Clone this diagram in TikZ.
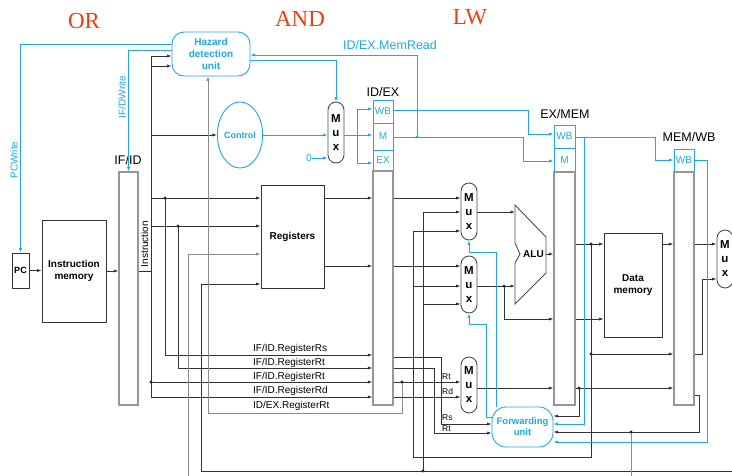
\documentclass[tikz,border=0pt]{standalone}
\usepackage{fontspec}
\setmainfont{Liberation Sans}
\newfontfamily\opfont{Liberation Serif}
\usetikzlibrary{arrows.meta,shapes.geometric}
\definecolor{ctrlblue}{RGB}{30,168,230}
\definecolor{opred}{RGB}{244,58,18}
\definecolor{reggray}{RGB}{150,150,150}
\tikzset{
	wire/.style={draw=black!80, line width=0.8pt},
	gwire/.style={draw=black!45, line width=0.8pt},
	ctrl/.style={draw=ctrlblue, line width=0.8pt},
	arr/.style={-{Latex[length=4.5pt,width=3.2pt]}},
	unitbox/.style={draw=black!80, line width=0.8pt, inner sep=0pt, align=center, font=\bfseries\fontsize{10}{12.5}\selectfont},
	pipereg/.style={draw=reggray, line width=1.1pt, inner sep=0pt, minimum width=20pt},
	ctrlfield/.style={draw=ctrlblue, line width=0.9pt, inner sep=0pt, minimum width=20pt, text=ctrlblue, font=\fontsize{10}{10}\selectfont},
	ctrlunit/.style={draw=ctrlblue, line width=0.9pt, inner sep=0pt, align=center, text=ctrlblue, font=\bfseries\fontsize{10}{12}\selectfont},
	muxbox/.style={draw=black!70, line width=0.9pt, rounded corners=8pt, minimum width=16pt, inner sep=0pt, align=center, font=\bfseries\fontsize{11.5}{14}\selectfont},
	reglbl/.style={font=\fontsize{12.5}{12.5}\selectfont},
	fieldlbl/.style={anchor=west, font=\fontsize{10}{10}\selectfont, inner sep=0pt},
	pinlbl/.style={anchor=west, font=\fontsize{8.5}{8.5}\selectfont, inner sep=0pt},
	sig/.style={text=ctrlblue, font=\fontsize{10}{10}\selectfont, inner sep=0pt},
	oplbl/.style={text=opred, font=\opfont\fontsize{23}{23}\selectfont}
}
\begin{document}
\begin{tikzpicture}[x=1pt,y=-1pt]
	\useasboundingbox (0,0) rectangle (732,475);

	\node[oplbl] (OpOR) at (84,21) {OR};
	\node[oplbl] (OpAND) at (300,19) {AND};
	\node[oplbl] (OpLW) at (470,17) {LW};

	\node[unitbox, minimum width=17pt, minimum height=35pt, font=\bfseries\fontsize{9}{9}\selectfont] (PC) at (20.5,270.5) {PC};
	\node[unitbox, minimum width=64pt, minimum height=102pt] (IM) at (74,271) {Instruction\\memory};
	\node[pipereg, minimum width=19pt, minimum height=233pt] (IFID) at (128.5,288.5) {};
	\node[reglbl] (IFIDlbl) at (128,160) {IF/ID};
	\node[rotate=90, font=\fontsize{10}{10}\selectfont, inner sep=0pt] (InstrLbl) at (144.5,244) {Instruction};

	\node[ctrlunit, rounded corners=12pt, minimum width=78pt, minimum height=44pt] (HDU) at (211,54) {Hazard\\detection\\unit};
	\node[ctrlunit, ellipse, minimum width=34pt, minimum height=66pt, font=\bfseries\fontsize{9}{9}\selectfont] (Ctrl) at (240,135) {Control};
	\node[muxbox, minimum height=61pt] (MuxCtrl) at (336,132.5) {M\\u\\x};
	\node[sig] (Zero) at (309,158) {0};
	\node[unitbox, minimum width=63pt, minimum height=103pt] (Regs) at (292.5,236.5) {Registers};

	\node[ctrlfield, minimum height=23pt] (IDEXwb) at (383,111.5) {WB};
	\node[ctrlfield, minimum height=27pt] (IDEXm) at (383,136.5) {M};
	\node[ctrlfield, minimum height=21pt] (IDEXex) at (383,160.5) {EX};
	\node[pipereg, minimum height=234pt] (IDEX) at (383,288) {};
	\node[reglbl] (IDEXlbl) at (383,92) {ID/EX};

	\node[muxbox, minimum height=57pt] (MuxA) at (469,211.5) {M\\u\\x};
	\node[muxbox, minimum height=57pt] (MuxB) at (469,284.5) {M\\u\\x};
	\node[muxbox, minimum height=56pt] (MuxDst) at (469,385) {M\\u\\x};
	\draw[draw=black!70, line width=0.9pt] (515,205) -- (546,237) -- (546,273) -- (515,304) -- (515,263) -- (520,254) -- (515,243) -- cycle;
	\node[font=\bfseries\fontsize{10}{10}\selectfont, inner sep=0pt] (ALU) at (533.5,254) {ALU};
	\node[ctrlunit, rounded corners=14pt, minimum width=61pt, minimum height=40pt, font=\bfseries\fontsize{9.5}{11}\selectfont] (FU) at (522.5,427) {Forwarding\\unit};

	\node[ctrlfield, minimum width=21pt, minimum height=23pt] (EXMEMwb) at (564.5,136.5) {WB};
	\node[ctrlfield, minimum width=21pt, minimum height=24pt] (EXMEMm) at (564.5,160) {M};
	\node[pipereg, minimum width=21pt, minimum height=233pt] (EXMEM) at (564.5,288.5) {};
	\node[reglbl] (EXMEMlbl) at (565,114) {EX/MEM};
	\node[unitbox, minimum width=58pt, minimum height=104pt] (DM) at (633,285) {Data\\memory};

	\node[ctrlfield, minimum height=23pt] (MEMWBwb) at (684,160.5) {WB};
	\node[pipereg, minimum height=233pt] (MEMWB) at (684,288.5) {};
	\node[reglbl] (MEMWBlbl) at (689,137) {MEM/WB};
	\node[muxbox, minimum height=58pt] (MuxWB) at (725,259) {M\\u\\x};

	\node[sig, rotate=90] (PCWriteLbl) at (14,160) {PCWrite};
	\node[sig, rotate=90] (IFDWriteLbl) at (122,97) {IF/DWrite};
	\node[sig, font=\fontsize{12.5}{12.5}\selectfont] (MemReadLbl) at (390,45) {ID/EX.MemRead};
	\node[fieldlbl] (LblRs) at (253,349) {IF/ID.RegisterRs};
	\node[fieldlbl] (LblRt) at (253,363) {IF/ID.RegisterRt};
	\node[fieldlbl] (LblRtb) at (253,377) {IF/ID.RegisterRt};
	\node[fieldlbl] (LblRd) at (253,391) {IF/ID.RegisterRd};
	\node[fieldlbl] (LblExRt) at (253,406) {ID/EX.RegisterRt};
	\node[pinlbl] (PinRt) at (442,377) {Rt};
	\node[pinlbl] (PinRd) at (442,391) {Rd};
	\node[pinlbl] (PinRs) at (442,418) {Rs};
	\node[pinlbl] (PinRtb) at (442,429) {Rt};

	\coordinate (BusTop) at (151,56);
	\coordinate (BusHz) at (151,66);
	\coordinate (BusCtrl) at (151,135);
	\coordinate (BusRs) at (151,198);
	\coordinate (BusRt) at (151,226);
	\coordinate (BusInstr) at (151,271);
	\coordinate (BusRtb) at (151,382);
	\coordinate (BusEnd) at (151,397);
	\coordinate (RsTap) at (165,198);
	\coordinate (RtTap) at (178,226);
	\coordinate (ExRtTap) at (402,382);
	\coordinate (WBBack) at (201,471);
	\coordinate (WBFwd) at (423,471);
	\coordinate (AluTap) at (504,286);
	\coordinate (AddrTap) at (591,244);
	\coordinate (AddrFwd) at (591,354);
	\coordinate (RdTap) at (579,388);
	\coordinate (WbRdTap) at (631,432);
	\coordinate (MemReadTap) at (417,137);
	\coordinate (CtrlSplit) at (357,135);

	\draw[wire,arr] (PC.east) -- (PC.east -| IM.west);
	\draw[wire,arr] (IM.east) -- (IM.east -| IFID.west);
	\draw[wire] (IFID.east |- BusInstr) -- (BusInstr);
	\draw[wire] (BusTop) -- (BusEnd);
	\draw[wire,arr] (BusTop) -- (BusTop -| HDU.west);
	\draw[wire,arr] (BusHz) -- (BusHz -| HDU.west);
	\draw[wire,arr] (BusCtrl) -- (Ctrl.west);
	\draw[wire,arr] (BusRs) -- (BusRs -| Regs.west);
	\draw[wire,arr] (BusRt) -- (BusRt -| Regs.west);
	\draw[wire,arr] (RsTap) |- (IDEX.west |- 0,355);
	\draw[wire,arr] (RtTap) |- (IDEX.west |- 0,368);
	\draw[wire,arr] (BusRtb) -- (IDEX.west |- BusRtb);
	\draw[wire,arr] (BusEnd) -- (IDEX.west |- BusEnd);
	\draw[gwire,arr] (188,480) |- (Regs.west |- 0,254);
	\draw[wire,arr] (740,471) -- (WBBack) |- (Regs.west |- 0,284);
	\draw[gwire,arr] (ExRtTap) |- (208,413) -- (208,0 |- HDU.south);

	\draw[wire,arr] (Regs.east |- 0,198) -- (IDEX.west |- 0,198);
	\draw[wire,arr] (Regs.east |- 0,266) -- (IDEX.west |- 0,266);
	\draw[wire,arr] (IDEX.east |- 0,198) -- (MuxA.west |- 0,198);
	\draw[wire,arr] (IDEX.east |- 0,266) -- (MuxB.west |- 0,266);
	\draw[wire,arr] (WBFwd) -- (423,212) -- (MuxA.west |- 0,212);
	\draw[wire,arr] (423,304) -- (MuxB.west |- 0,304);
	\draw[wire,arr] (AddrTap) -- (591,457) -- (413,457) -- (413,231) -- (MuxA.west |- 0,231);
	\draw[wire,arr] (413,286) -- (MuxB.west |- 0,286);
	\draw[wire,arr] (IDEX.east |- ExRtTap) -- (MuxDst.west |- ExRtTap);
	\draw[wire,arr] (IDEX.east |- 0,397) -- (MuxDst.west |- 0,397);
	\draw[wire,arr] (IDEX.east |- 0,357) -| (441,424) -- (FU.west |- 0,424);
	\draw[wire,arr] (IDEX.east |- 0,368) -| (434,433) -- (FU.west |- 0,433);

	\draw[wire,arr] (MuxA.east |- 0,212) -- (515,212);
	\draw[wire,arr] (MuxB.east |- AluTap) -- (515,286);
	\draw[wire,arr] (AluTap) |- (EXMEM.west |- 0,319);
	\draw[wire,arr] (546,254) -- (EXMEM.west |- 0,254);
	\draw[wire,arr] (MuxDst.east |- RdTap) -- (EXMEM.west |- RdTap);

	\draw[wire,arr] (EXMEM.east |- AddrTap) -- (DM.west |- AddrTap);
	\draw[wire,arr] (AddrFwd) -- (MEMWB.west |- AddrFwd);
	\draw[wire,arr] (EXMEM.east |- 0,319) -- (DM.west |- 0,319);
	\draw[wire,arr] (EXMEM.east |- RdTap) -- (MEMWB.west |- RdTap);
	\draw[wire,arr] (RdTap) |- (FU.east |- 0,416);
	\draw[wire,arr] (DM.east |- 0,244) -- (MEMWB.west |- 0,244);
	\draw[wire,arr] (MEMWB.east |- 0,244) -- (MuxWB.west |- 0,244);
	\draw[wire,arr] (MEMWB.east |- 0,354) -- (702,354) -- (702,279) -- (MuxWB.west |- 0,279);
	\draw[wire,arr] (MEMWB.east |- 0,395) -| (699,432) -- (FU.east |- WbRdTap);
	\draw[gwire] (WbRdTap) -- (631,480);

	\draw[ctrl,arr] (HDU.west |- 0,44) -| (PC.north);
	\draw[ctrl,arr] (HDU.west |- 0,50) -| (IFID.north);
	\draw[ctrl,arr] (MemReadTap) |- (HDU.east |- 0,55);
	\draw[ctrl,arr] (HDU.east |- 0,60) -| (MuxCtrl.north);
	\draw[ctrl,arr] (Ctrl.east) -- (MuxCtrl.west |- Ctrl.east);
	\draw[ctrl,arr] (Zero.east) -- (MuxCtrl.west |- Zero.east);
	\draw[ctrl,arr] (MuxCtrl.east |- CtrlSplit) -- (IDEXm.west |- CtrlSplit);
	\draw[ctrl,arr] (CtrlSplit) |- (IDEXwb.west |- 0,109);
	\draw[ctrl,arr] (CtrlSplit) |- (IDEXex.west |- 0,163);
	\draw[ctrl,arr] (IDEXwb.east |- 0,110) -- (528,110) |- (EXMEMwb.west |- 0,134);
	\draw[ctrl,arr] (IDEXm.east |- MemReadTap) -- (523,137) |- (EXMEMm.west |- 0,161);
	\draw[ctrl,arr] (EXMEMwb.east |- 0,137) -- (655,137) |- (MEMWBwb.west |- 0,160);
	\draw[ctrl,arr] (584,137) |- (FU.east |- 0,424);
	\draw[ctrl,arr] (MEMWBwb.east |- 0,160) -- (707,160) |- (FU.east |- 0,442);
	\draw[ctrl,arr] (FU.north -| 496,0) |- (469,252) -- (MuxA.south);
	\draw[ctrl,arr] (FU.west |- 0,417) -- (486,417) |- (469,324) -- (MuxB.south);

	\foreach \p in {RsTap,RtTap,BusRtb,ExRtTap,WBFwd,AluTap,AddrTap,AddrFwd,RdTap,WbRdTap}
		\fill[black!85] (\p) circle (1.7);
	\fill[ctrlblue] (MemReadTap) circle (1.7);
\end{tikzpicture}
\end{document}
